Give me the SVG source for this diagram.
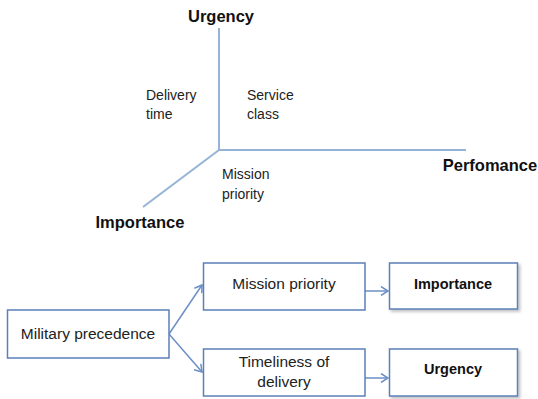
<svg xmlns="http://www.w3.org/2000/svg" width="538" height="399" viewBox="0 0 538 399">
<style>
.axis{stroke:#95b3d7;stroke-width:2;fill:none}
.box{fill:#fff;stroke:#5b7fb8;stroke-width:1.5}
.conn{stroke:#6d8fc7;stroke-width:1.5;fill:none}
.t{font-family:"Liberation Sans",Arial,sans-serif;font-size:14px;fill:#222}
.bt{font-family:"Liberation Sans",Arial,sans-serif;font-size:15.5px;fill:#222}
.b{font-family:"Liberation Sans",Arial,sans-serif;font-size:16.5px;font-weight:bold;fill:#111}
.bb{font-family:"Liberation Sans",Arial,sans-serif;font-size:14.5px;font-weight:bold;fill:#111}
</style>
<defs>
<marker id="ah" markerWidth="10" markerHeight="10" refX="8" refY="5" orient="auto" markerUnits="userSpaceOnUse">
<path d="M1,0.5 L8,5 L1,9.5" fill="none" stroke="#6d8fc7" stroke-width="1.5"/>
</marker>
<filter id="sh" x="-10%" y="-10%" width="130%" height="140%">
<feDropShadow dx="2" dy="2" stdDeviation="1.5" flood-color="#000" flood-opacity="0.25"/>
</filter>
</defs>
<rect width="538" height="399" fill="#fff"/>
<g id="axes">
<line class="axis" x1="219" y1="28" x2="219" y2="150"/>
<line class="axis" x1="219" y1="150" x2="466" y2="150"/>
<line class="axis" x1="219" y1="150" x2="143" y2="207"/>
</g>
<g id="axis-labels">
<text class="b" x="221" y="22" text-anchor="middle">Urgency</text>
<text class="b" x="490" y="171" text-anchor="middle">Perfomance</text>
<text class="b" x="140" y="228" text-anchor="middle">Importance</text>
<text class="t" x="146" y="100">Delivery</text>
<text class="t" x="146" y="119">time</text>
<text class="t" x="247" y="100">Service</text>
<text class="t" x="247" y="119">class</text>
<text class="t" x="222" y="179">Mission</text>
<text class="t" x="222" y="199">priority</text>
</g>
<g id="connectors">
<line class="conn" x1="169" y1="334" x2="202" y2="285" marker-end="url(#ah)"/>
<line class="conn" x1="169" y1="334" x2="202" y2="372" marker-end="url(#ah)"/>
<line class="conn" x1="365" y1="291" x2="388" y2="291" marker-end="url(#ah)"/>
<line class="conn" x1="365" y1="378" x2="388" y2="378" marker-end="url(#ah)"/>
</g>
<g id="military-precedence">
<rect class="box" x="7.5" y="310" width="161.5" height="48"/>
<text class="bt" x="88" y="339" text-anchor="middle">Military precedence</text>
</g>
<g id="mission-priority">
<rect class="box" x="203.5" y="263" width="161.5" height="47"/>
<text class="bt" x="284" y="289" text-anchor="middle">Mission priority</text>
</g>
<g id="timeliness">
<rect class="box" x="203.5" y="349" width="161.5" height="47"/>
<text class="bt" x="284" y="367" text-anchor="middle">Timeliness of</text>
<text class="bt" x="284" y="387" text-anchor="middle">delivery</text>
</g>
<g id="importance">
<rect class="box" x="389.5" y="263" width="128" height="46" filter="url(#sh)"/>
<text class="bb" x="453" y="289" text-anchor="middle">Importance</text>
</g>
<g id="urgency">
<rect class="box" x="389.5" y="349" width="128" height="47" filter="url(#sh)"/>
<text class="bb" x="453" y="374" text-anchor="middle">Urgency</text>
</g>
</svg>
